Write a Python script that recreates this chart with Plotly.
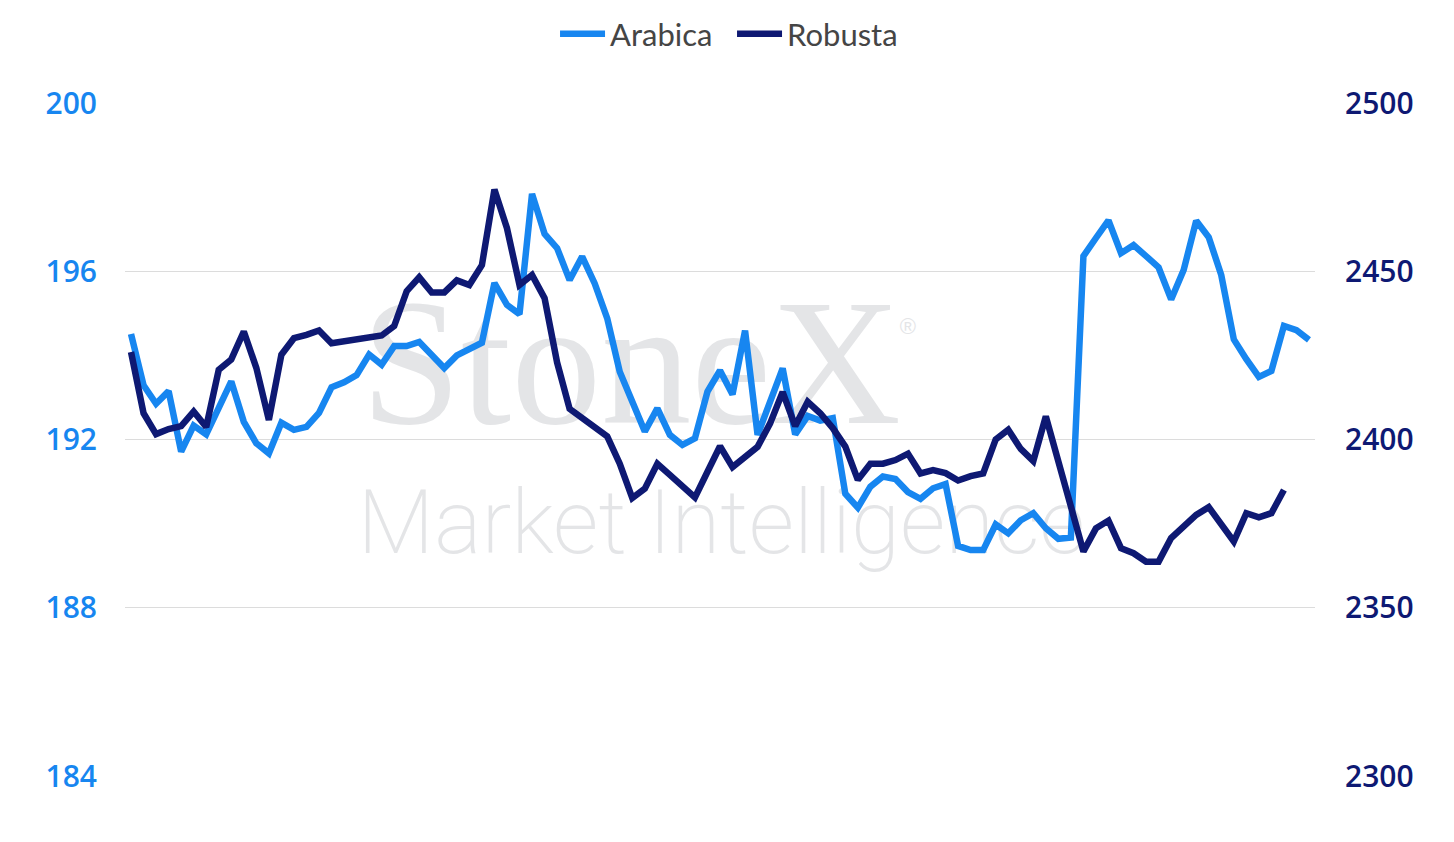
import plotly.graph_objects as go

arabica = [194.51, 193.29, 192.85, 193.15, 191.71, 192.33, 192.12, 192.75, 193.38, 192.42,
           191.91, 191.67, 192.40, 192.23, 192.30, 192.63, 193.24, 193.36, 193.53, 194.02,
           193.78, 194.22, 194.22, 194.32, 194.03, 193.70, 194.00, 194.15, 194.30, 195.72,
           195.20, 194.98, 197.84, 196.89, 196.55, 195.79, 196.35, 195.71, 194.88, 193.61,
           192.94, 192.19, 192.74, 192.11, 191.87, 192.03, 193.14, 193.64, 193.07, 194.59,
           192.11, 192.85, 193.69, 192.12, 192.56, 192.45, 192.51, 190.71, 190.38, 190.88,
           191.12, 191.06, 190.75, 190.59, 190.84, 190.94, 189.47, 189.37, 189.37, 189.98,
           189.77, 190.08, 190.25, 189.89, 189.64, 189.67, 196.36, 196.79, 197.21, 196.43,
           196.62, 196.36, 196.09, 195.33, 196.03, 197.20, 196.81, 195.91, 194.38, 193.91,
           193.49, 193.63, 194.70, 194.60, 194.37]

robusta = [2426.0, 2407.8, 2401.6, 2403.1, 2404.0, 2408.3, 2403.7, 2420.7, 2423.8, 2432.1,
           2421.3, 2405.8, 2425.2, 2430.1, 2431.1, 2432.4, 2428.6, 2429.1, 2429.6, 2430.1,
           2430.9, 2433.7, 2444.1, 2448.2, 2443.7, 2443.7, 2447.3, 2445.9, 2451.8, 2474.3,
           2462.8, 2445.9, 2448.9, 2442.0, 2422.9, 2409.1, 2406.5, 2403.8, 2400.9, 2392.8,
           2382.6, 2385.4, 2392.8, 2389.5, 2386.1, 2382.8, 2390.4, 2398.0, 2391.8, 2394.8,
           2397.8, 2404.8, 2414.1, 2404.0, 2411.2, 2407.8, 2403.4, 2397.9, 2388.0, 2392.8,
           2392.8, 2393.9, 2395.8, 2389.9, 2390.9, 2390.0, 2387.8, 2389.1, 2389.9, 2400.0,
           2402.9, 2397.2, 2393.6, 2406.9, 2393.6, 2380.3, 2366.7, 2373.6, 2375.9, 2367.7,
           2366.2, 2363.7, 2363.7, 2370.7, 2374.0, 2377.6, 2379.9, 2375.1, 2369.7, 2378.1,
           2376.9, 2378.1, 2385.0, None, None]

days = list(range(len(arabica)))

left_ticks = [184, 188, 192, 196, 200]
right_ticks = [2300, 2350, 2400, 2450, 2500]

ARABICA_COLOR = "#1786f0"
ROBUSTA_COLOR = "#0e1973"
WM_COLOR = "#e4e5e7"

fig = go.Figure()

# watermark (drawn first so the lines sit on top)
fig.add_trace(go.Scatter(
    x=[39.9], y=[193.47], mode="text", text=["StoneX"], textposition="middle center",
    textfont=dict(family="Liberation Serif", size=180, color=WM_COLOR),
    showlegend=False, hoverinfo="skip"))
fig.add_trace(go.Scatter(
    x=[62.0], y=[194.65], mode="text", text=["®"], textposition="middle center",
    textfont=dict(family="Liberation Sans", size=22, color=WM_COLOR),
    showlegend=False, hoverinfo="skip"))
fig.add_trace(go.Scatter(
    x=[47.1], y=[189.84], mode="text", text=["Market Intelligence"],
    textposition="middle center",
    textfont=dict(family="Roboto", size=89, color=WM_COLOR, weight=200),
    showlegend=False, hoverinfo="skip"))

fig.add_trace(go.Scatter(
    x=days, y=arabica, name="Arabica", mode="lines",
    line=dict(color=ARABICA_COLOR, width=6.5), yaxis="y"))
fig.add_trace(go.Scatter(
    x=days, y=robusta, name="Robusta", mode="lines",
    line=dict(color=ROBUSTA_COLOR, width=6.5), yaxis="y2", connectgaps=False))

fig.update_layout(
    width=1438, height=826,
    margin=dict(l=117, r=131, t=95, b=58),
    paper_bgcolor="white", plot_bgcolor="white",
    showlegend=True,
    legend=dict(orientation="h", xref="container", yref="container",
                x=0.5035, xanchor="center", y=1 - 26 / 826, yanchor="middle",
                font=dict(family="Lato", size=31, color="#454545"),
                itemwidth=45, entrywidth=117, traceorder="normal",
                bgcolor="rgba(0,0,0,0)"),
    xaxis=dict(range=[-0.48, 94.48], showgrid=False, showticklabels=False,
               zeroline=False, showline=False, ticks=""),
    yaxis=dict(range=[184, 200], tickvals=left_ticks, ticktext=[str(v) for v in left_ticks],
               showgrid=True, gridcolor="#dcdcdc", gridwidth=1, zeroline=False,
               showline=False, ticks="", ticklabelstandoff=27,
               tickfont=dict(family="Open Sans", size=30, color=ARABICA_COLOR, weight=600)),
    yaxis2=dict(range=[2300, 2500], tickvals=right_ticks, ticktext=[str(v) for v in right_ticks],
                overlaying="y", side="right", showgrid=False, zeroline=False,
                showline=False, ticks="", ticklabelstandoff=29,
                tickfont=dict(family="Open Sans", size=30, color=ROBUSTA_COLOR, weight=600)),
)

fig.write_html("out.html")
